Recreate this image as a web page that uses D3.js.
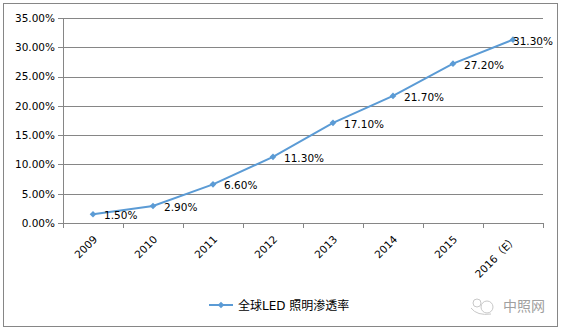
<!DOCTYPE html>
<html><head><meta charset="utf-8">
<script src="https://cdn.jsdelivr.net/npm/d3@7"></script>
<style>body{margin:0;background:#fff}svg{display:block}</style>
</head><body>
<svg id="c" width="561" height="331"></svg>
<script>
const categories = ["2009","2010","2011","2012","2013","2014","2015","2016（E）"];
const values = [1.5, 2.9, 6.6, 11.3, 17.1, 21.7, 27.2, 31.3];
const yTicks = [0,5,10,15,20,25,30,35];
const seriesName = "全球LED 照明渗透率";

const svg = d3.select("#c");
const L = 63, R = 543, T = 18, B = 223;
const grid = "#868686";
const blue = "#5B9BD5";
const font = "'DejaVu Sans', 'Noto Sans CJK SC', sans-serif";

svg.append("rect").attr("x",3.5).attr("y",3.5).attr("width",554).attr("height",323)
  .attr("fill","#fff").attr("stroke",grid).attr("stroke-width",1);

const x = d3.scaleBand().domain(categories).range([L,R]).padding(0);
const y = d3.scaleLinear().domain([0,35]).range([B,T]);

// gridlines + y axis
const yAxis = d3.axisLeft(y).tickValues(yTicks).tickSize(-(R-L)).tickPadding(8)
  .tickFormat(d => d.toFixed(2) + "%");
const gy = svg.append("g").attr("transform",`translate(${L},0)`).call(yAxis);
gy.select(".domain").remove();
gy.selectAll(".tick line").attr("stroke",grid).attr("x1",-5).attr("shape-rendering","crispEdges");
gy.selectAll(".tick text").attr("font-family",font).attr("font-size",10.5).attr("fill","#000");
svg.append("line").attr("x1",L).attr("x2",L).attr("y1",T).attr("y2",B)
  .attr("stroke",grid).attr("shape-rendering","crispEdges");

// x axis ticks at band boundaries
const bounds = categories.map(c => x(c)).concat([R]);
svg.append("g").selectAll("line").data(bounds).join("line")
  .attr("x1",d=>d).attr("x2",d=>d).attr("y1",B).attr("y2",B+5)
  .attr("stroke",grid).attr("shape-rendering","crispEdges");
svg.append("g").selectAll("text").data(categories).join("text")
  .attr("transform", d => `translate(${x(d)+x.bandwidth()/2+5},${B+17}) rotate(-45)`)
  .attr("text-anchor","end").attr("font-family",font).attr("font-size",10.5)
  .attr("fill","#000").text(d=>d);

// line
const pts = categories.map((c,i)=>({c, v: values[i], px: x(c)+x.bandwidth()/2, py: y(values[i])}));
svg.append("path").datum(pts)
  .attr("d", d3.line().x(d=>d.px).y(d=>d.py))
  .attr("fill","none").attr("stroke",blue).attr("stroke-width",2);
svg.append("g").selectAll("path").data(pts).join("path")
  .attr("d", d3.symbol(d3.symbolDiamond2, 28))
  .attr("transform", d=>`translate(${d.px},${d.py})`).attr("fill",blue);

// data labels
const lbl = svg.append("g").selectAll("text").data(pts).join("text")
  .attr("font-family",font).attr("font-size",10.5).attr("fill","#000")
  .attr("y", d=>d.py+5).text(d=>d.v.toFixed(2)+"%");
lbl.each(function(d){
  const w = this.getComputedTextLength();
  let lx = d.px + 11;
  if (lx + w > 553) lx = 553 - w;
  d3.select(this).attr("x", lx);
});

// legend
svg.append("line").attr("x1",209).attr("x2",233).attr("y1",305).attr("y2",305)
  .attr("stroke",blue).attr("stroke-width",2);
svg.append("path").attr("d", d3.symbol(d3.symbolDiamond2, 28))
  .attr("transform","translate(221,305)").attr("fill",blue);
svg.append("text").attr("x",238).attr("y",309.5).attr("font-family",font)
  .attr("font-size",12).attr("fill","#000").text(seriesName);

// watermark
const wm = svg.append("g").attr("fill","none").attr("stroke","#c8c8c8").attr("stroke-width",1);
wm.append("circle").attr("cx",477).attr("cy",303).attr("r",4);
wm.append("circle").attr("cx",487).attr("cy",307).attr("r",6);
wm.append("path").attr("d","M471,308 q6,8 20,6");
svg.append("text").attr("x",503).attr("y",311).attr("font-family","'Noto Sans CJK SC', sans-serif")
  .attr("font-size",14).attr("fill","#a0a0a0").text("中照网");
</script>
</body></html>
